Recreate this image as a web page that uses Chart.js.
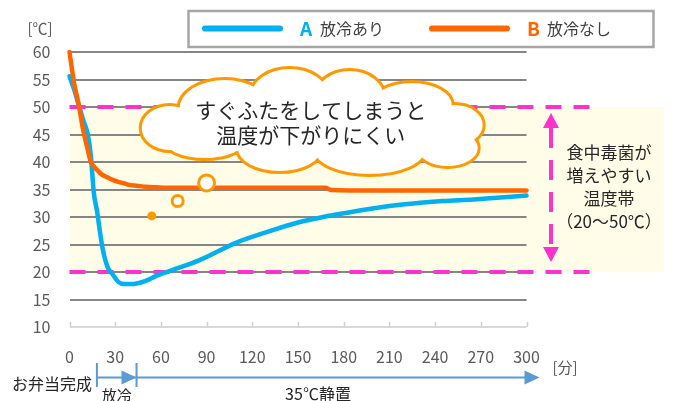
<!DOCTYPE html>
<html>
<head>
<meta charset="utf-8">
<script src="https://cdn.jsdelivr.net/npm/chart.js@4"></script>
<style>
  html, body { margin: 0; padding: 0; background: #fff; }
  canvas { display: block; }
</style>
</head>
<body>
<canvas id="chart" width="677" height="401"></canvas>
<script>
// お弁当の温度変化 - 放冷あり / 放冷なし

var TIMES    = [0, 3, 6, 9, 12, 14, 16, 18, 20, 22, 25, 28, 32, 36, 40, 44, 50, 57, 67, 85, 110, 130, 150, 168, 172, 200, 220, 245, 265, 285, 300];
var SERIES_A = [55.6, 53.2, 50.4, 47.6, 45.0, 41.2, 34.3, 31.2, 27.3, 23.9, 20.9, 19.7, 18.2, 17.8, 17.8, 17.9, 18.4, 19.3, 20.3, 22.1, 25.4, 27.3, 29.0, 30.1, 30.3, 31.6, 32.3, 32.9, 33.2, 33.6, 33.9];
var SERIES_B = [60.0, 54.4, 50.5, 45.8, 42.2, 40.0, 39.2, 38.6, 38.0, 37.6, 37.2, 36.8, 36.4, 36.1, 35.8, 35.7, 35.5, 35.4, 35.3, 35.3, 35.3, 35.3, 35.3, 35.3, 34.9, 34.8, 34.8, 34.8, 34.8, 34.8, 34.8];

var SERIES_LETTERS = ['A', 'B'];
var SERIES_NAMES = ['放冷あり', '放冷なし'];

var X_TICKS = [0, 30, 60, 90, 120, 150, 180, 210, 240, 270, 300];
var Y_TICKS = [10, 15, 20, 25, 30, 35, 40, 45, 50, 55, 60];

var DANGER_ZONE = [20, 50];           // 食中毒菌が増えやすい温度帯
var TIMELINE = [18, 44, 300];         // お弁当完成 / 放冷終了 / 終了
var BUBBLES = [[54, 30.2, 4.5, true], [71, 32.9, 5.5, false], [90, 36.2, 8, false]];

var CLOUD_TEXT = ['すぐふたをしてしまうと', '温度が下がりにくい'];
var ZONE_TEXT = ['食中毒菌が', '増えやすい', '温度帯', '（20～50℃）'];

var BLUE = '#00b0f0';
var ORANGE = '#ff6600';
var CLOUD_ORANGE = '#ff9900';
var PINK = '#ff33cc';
var TIMELINE_BLUE = '#5b9bd5';
var TEXT = '#262626';
var AXIS_TEXT = '#595959';
var FONT = "'Noto Sans CJK JP', 'Noto Sans', sans-serif";

Chart.defaults.font.family = FONT;

function toPoints(values) {
  return values.map(function(v, i) { return { x: TIMES[i], y: v }; });
}

function drawText(ctx, text, x, y, size, color, align, weight) {
  ctx.font = (weight || 'normal') + ' ' + size + 'px ' + FONT;
  ctx.fillStyle = color;
  ctx.textAlign = align || 'center';
  ctx.textBaseline = 'middle';
  ctx.fillText(text, x, y);
}

function drawCloud(ctx, cx, cy) {
  var bumps = [
    [-87, -13, 45, 28], [-22, -26, 38, 26], [38, -24, 34, 26], [100, -16, 40, 22],
    [143, 4, 28, 20], [136, 27, 30, 18], [58, 29, 55, 24], [-32, 27, 42, 23],
    [-107, 17, 42, 20], [-142, 7, 28, 22], [0, 1, 130, 35]
  ];
  ctx.save();
  ctx.lineWidth = 6;
  ctx.strokeStyle = CLOUD_ORANGE;
  bumps.forEach(function(b) {
    ctx.beginPath();
    ctx.ellipse(cx + b[0], cy + b[1], b[2], b[3], 0, 0, Math.PI * 2);
    ctx.stroke();
  });
  ctx.fillStyle = '#fff';
  bumps.forEach(function(b) {
    ctx.beginPath();
    ctx.ellipse(cx + b[0], cy + b[1], b[2], b[3], 0, 0, Math.PI * 2);
    ctx.fill();
  });
  ctx.restore();
}

function triangle(ctx, p1, p2, p3, color) {
  ctx.fillStyle = color;
  ctx.beginPath();
  ctx.moveTo(p1[0], p1[1]);
  ctx.lineTo(p2[0], p2[1]);
  ctx.lineTo(p3[0], p3[1]);
  ctx.closePath();
  ctx.fill();
}

var decorPlugin = {
  id: 'decor',
  beforeDraw: function(chart) {
    var ctx = chart.ctx, area = chart.chartArea, y = chart.scales.y;
    var top = y.getPixelForValue(DANGER_ZONE[1]);
    var bottom = y.getPixelForValue(DANGER_ZONE[0]);
    ctx.save();
    ctx.fillStyle = '#fffde8';
    ctx.fillRect(area.left, top, 664 - area.left, bottom - top);
    ctx.restore();
  },
  beforeDatasetsDraw: function(chart) {
    var ctx = chart.ctx, area = chart.chartArea, x = chart.scales.x, y = chart.scales.y;
    ctx.save();
    // tick marks on the x axis (pointing inward)
    ctx.strokeStyle = '#d0d0d0';
    ctx.lineWidth = 1.5;
    X_TICKS.forEach(function(v) {
      var px = Math.round(x.getPixelForValue(v)) + 0.5;
      ctx.beginPath();
      ctx.moveTo(px, area.bottom);
      ctx.lineTo(px, area.bottom - 5);
      ctx.stroke();
    });
    // danger zone borders
    ctx.strokeStyle = PINK;
    ctx.lineWidth = 4;
    ctx.setLineDash([16, 12]);
    DANGER_ZONE.forEach(function(v) {
      var py = y.getPixelForValue(v);
      ctx.beginPath();
      ctx.moveTo(area.left, py);
      ctx.lineTo(590, py);
      ctx.stroke();
    });
    // double arrow
    var ax = 551;
    var tipTop = y.getPixelForValue(DANGER_ZONE[1]) + 6;
    var tipBottom = y.getPixelForValue(DANGER_ZONE[0]) - 10;
    ctx.setLineDash([20, 12]);
    ctx.beginPath();
    ctx.moveTo(ax, tipTop + 15);
    ctx.lineTo(ax, tipBottom - 15);
    ctx.stroke();
    ctx.setLineDash([]);
    triangle(ctx, [ax, tipTop], [ax - 8, tipTop + 15], [ax + 8, tipTop + 15], PINK);
    triangle(ctx, [ax, tipBottom], [ax - 8, tipBottom - 15], [ax + 8, tipBottom - 15], PINK);
    ctx.restore();
  },
  afterDatasetsDraw: function(chart) {
    var ctx = chart.ctx, x = chart.scales.x, y = chart.scales.y;
    ctx.save();

    // thought cloud with bubbles
    var cx = x.getPixelForValue(159), cy = y.getPixelForValue(47.45);
    drawCloud(ctx, cx, cy);
    drawText(ctx, CLOUD_TEXT[0], cx - 1, cy - 11, 21, TEXT);
    drawText(ctx, CLOUD_TEXT[1], cx - 1, cy + 14, 21, TEXT);

    BUBBLES.forEach(function(b) {
      ctx.beginPath();
      ctx.arc(x.getPixelForValue(b[0]), y.getPixelForValue(b[1]), b[2], 0, Math.PI * 2);
      if (b[3]) {
        ctx.fillStyle = CLOUD_ORANGE;
        ctx.fill();
      } else {
        ctx.fillStyle = '#fff';
        ctx.fill();
        ctx.lineWidth = 3;
        ctx.strokeStyle = CLOUD_ORANGE;
        ctx.stroke();
      }
    });

    // zone description
    ZONE_TEXT.forEach(function(t, i) {
      drawText(ctx, t, 609, 153 + i * 22.7, 17, TEXT);
    });

    // axis units
    drawText(ctx, '[℃]', 40, 28, 15, AXIS_TEXT);
    drawText(ctx, '[分]', 565, 367, 15, AXIS_TEXT);

    // legend
    ctx.lineWidth = 2.5;
    ctx.strokeStyle = '#a6a6a6';
    ctx.strokeRect(188.5, 11, 465, 36);
    var ly = 28.5;
    var legendColors = [BLUE, ORANGE];
    var legendX = [205, 432];
    chart.data.datasets.forEach(function(ds, i) {
      ctx.lineWidth = 6;
      ctx.lineCap = 'round';
      ctx.strokeStyle = legendColors[i];
      ctx.beginPath();
      ctx.moveTo(legendX[i], ly);
      ctx.lineTo(legendX[i] + 75, ly);
      ctx.stroke();
      drawText(ctx, SERIES_LETTERS[i], legendX[i] + 95, ly, 19, legendColors[i], 'left', 'bold');
      drawText(ctx, SERIES_NAMES[i], legendX[i] + 115, ly, 16, '#404040', 'left');
    });

    // timeline below the axis
    var t0 = x.getPixelForValue(TIMELINE[0]);
    var t1 = x.getPixelForValue(TIMELINE[1]);
    var t2 = x.getPixelForValue(TIMELINE[2]) + 13;
    var ty = 377.5;
    ctx.lineCap = 'butt';
    ctx.strokeStyle = TIMELINE_BLUE;
    ctx.lineWidth = 2;
    ctx.beginPath();
    ctx.moveTo(t0, 363); ctx.lineTo(t0, 387);
    ctx.moveTo(t1, 363); ctx.lineTo(t1, 387);
    ctx.moveTo(t0, ty); ctx.lineTo(t2 - 10, ty);
    ctx.stroke();
    triangle(ctx, [t1, ty], [t1 - 15, ty - 7], [t1 - 15, ty + 7], TIMELINE_BLUE);
    triangle(ctx, [t2, ty], [t2 - 15, ty - 7], [t2 - 15, ty + 7], TIMELINE_BLUE);

    drawText(ctx, 'お弁当完成', t0 - 5, 384, 16, TEXT, 'right');
    drawText(ctx, '放冷', (t0 + t1) / 2, 395, 15, TEXT);
    drawText(ctx, '35℃静置', 318, 394, 16, TEXT);

    ctx.restore();
  }
};

new Chart(document.getElementById('chart'), {
  type: 'line',
  data: {
    datasets: [
      {
        label: SERIES_LETTERS[0] + ' ' + SERIES_NAMES[0],
        data: toPoints(SERIES_A),
        borderColor: BLUE,
        borderWidth: 4.5,
        pointRadius: 0,
        cubicInterpolationMode: 'monotone',
        borderCapStyle: 'round',
        borderJoinStyle: 'round',
        fill: false,
        clip: false,
        order: 2
      },
      {
        label: SERIES_LETTERS[1] + ' ' + SERIES_NAMES[1],
        data: toPoints(SERIES_B),
        borderColor: ORANGE,
        borderWidth: 4.5,
        pointRadius: 0,
        cubicInterpolationMode: 'monotone',
        borderCapStyle: 'round',
        borderJoinStyle: 'round',
        fill: false,
        clip: false,
        order: 1
      }
    ]
  },
  options: {
    responsive: false,
    devicePixelRatio: 1,
    animation: false,
    events: [],
    layout: { padding: { left: 0, top: 52, right: 150.5, bottom: 0 } },
    plugins: {
      legend: { display: false },
      tooltip: { enabled: false }
    },
    scales: {
      x: {
        type: 'linear',
        min: 0,
        max: 300,
        border: { display: false },
        grid: { display: false },
        ticks: { padding: 12, color: AXIS_TEXT, font: { size: 16 }, maxRotation: 0 },
        afterBuildTicks: function(s) { s.ticks = X_TICKS.map(function(v) { return { value: v }; }); },
        afterFit: function(s) { s.height = 74; }
      },
      y: {
        min: 10,
        max: 60,
        border: { display: false },
        grid: {
          drawTicks: false,
          lineWidth: 2,
          color: function(c) { return c.tick && c.tick.value === 10 ? '#d9d9d9' : '#868686'; }
        },
        ticks: { padding: 19, color: AXIS_TEXT, font: { size: 16 } },
        afterBuildTicks: function(s) { s.ticks = Y_TICKS.map(function(v) { return { value: v }; }); },
        afterFit: function(s) { s.width = 69.5; }
      }
    }
  },
  plugins: [decorPlugin]
});
</script>
</body>
</html>
